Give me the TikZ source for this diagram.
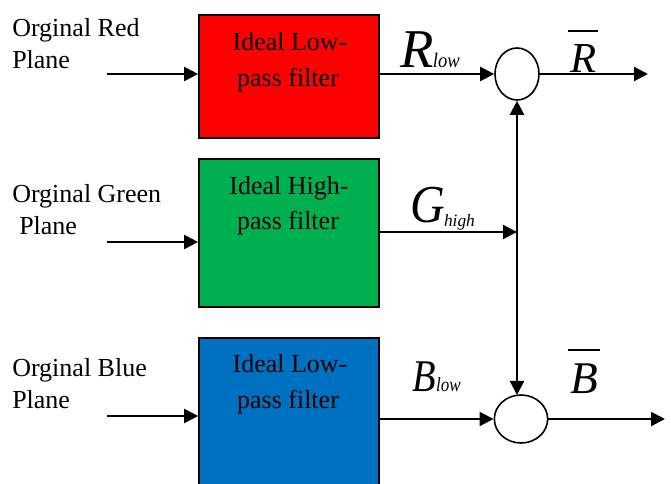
\documentclass[tikz,border=0pt]{standalone}
\usepackage{fontspec}
\setmainfont{Liberation Serif}
\usetikzlibrary{arrows.meta,shapes.geometric}
\begin{document}
\begin{tikzpicture}[x=0.75pt,y=-0.75pt,
  box/.style={draw=black,line width=1.3pt,minimum width=135pt,inner sep=0pt},
  arr/.style={line width=1.6pt,-{Triangle[length=10.5pt,width=10.5pt]}},
  sumnode/.style={draw=black,ellipse,line width=1.2pt,fill=white,inner sep=0pt},
  lbl/.style={anchor=base west,inner sep=0pt,font=\fontsize{19.5}{23}\selectfont},
  btxt/.style={anchor=base,inner sep=0pt,font=\fontsize{19.5}{23}\selectfont},
  sym/.style={anchor=base west,inner sep=0pt,font=\itshape},
  bar/.style={line width=1.5pt}]
\useasboundingbox (0,0) rectangle (671,484);
\definecolor{fred}{HTML}{FF0000}
\definecolor{fgreen}{HTML}{00B050}
\definecolor{fblue}{HTML}{0070C0}
% filter boxes
\node[box,fill=fred,minimum height=92.25pt] (red) at (289,76.5) {};
\node[box,fill=fgreen,minimum height=111pt] (green) at (289,233) {};
\node[box,fill=fblue,minimum height=121.5pt] (blue) at (289,419) {};
% box texts
\node[btxt] (r1) at (290,51) {Ideal Low-};
\node[btxt] (r2) at (288,87) {pass filter};
\node[btxt] (g1) at (289,195) {Ideal High-};
\node[btxt] (g2) at (288,230) {pass filter};
\node[btxt] (b1) at (290,373) {Ideal Low-};
\node[btxt] (b2) at (288,408) {pass filter};
% side labels
\node[lbl] (lr1) at (12,37) {Orginal Red};
\node[lbl] (lr2) at (12,69) {Plane};
\node[lbl] (lg1) at (12,203) {Orginal Green};
\node[lbl] (lg2) at (19,235) {Plane};
\node[lbl] (lb1) at (12,377) {Orginal Blue};
\node[lbl] (lb2) at (12,408) {Plane};
% input arrows
\coordinate (in1) at (107,74);
\coordinate (in2) at (107,242);
\coordinate (in3) at (107,416);
\draw[arr] (in1) -- (in1 -| red.west);
\draw[arr] (in2) -- (in2 -| green.west);
\draw[arr] (in3) -- (in3 -| blue.west);
% summing nodes
\node[sumnode,minimum width=33pt,minimum height=39pt] (top) at (517,74) {};
\node[sumnode,minimum width=40pt,minimum height=36pt] (bot) at (521,419) {};
\coordinate (j) at (517,232);
\coordinate (botin) at (517,395);
% connections
\draw[arr] (red.east |- top.west) -- (top.west);
\draw[arr] (green.east |- j) -- (j);
\draw[arr] (blue.east |- bot.west) -- (bot.west);
\draw[line width=1.6pt,{Triangle[length=10.5pt,width=10.5pt]}-{Triangle[length=10.5pt,width=10.5pt]}] (top.south) -- (botin);
\coordinate (out1) at (648,74);
\coordinate (out2) at (665,419);
\draw[arr] (top.east) -- (out1);
\draw[arr] (bot.east) -- (out2);
% symbols
\node[sym,font=\itshape\fontsize{41}{41}\selectfont] (rl) at (400,68) {R};
\node[sym,font=\itshape\fontsize{15.5}{16}\selectfont,xscale=0.9] (rls) at ([xshift=-1pt]rl.base east) {low};
\node[sym,font=\itshape\fontsize{40}{40}\selectfont,xscale=0.9] (gh) at (410,223) {G};
\node[sym,font=\itshape\fontsize{13}{13}\selectfont] (ghs) at ([xshift=-1pt,yshift=-2.5pt]gh.base east) {high};
\node[sym,font=\itshape\fontsize{34}{34}\selectfont,xscale=0.85] (bl) at (412,392) {B};
\node[sym,font=\itshape\fontsize{15}{15}\selectfont,xscale=0.85] (bls) at (bl.base east) {low};
\node[sym,font=\itshape\fontsize{32}{32}\selectfont] (rbar) at (570,73) {R};
\node[sym,font=\itshape\fontsize{34}{34}\selectfont] (bbar) at (570,393) {B};
\draw[bar] (568,31) -- (598,31);
\draw[bar] (568,350) -- (600,350);
\end{tikzpicture}
\end{document}
